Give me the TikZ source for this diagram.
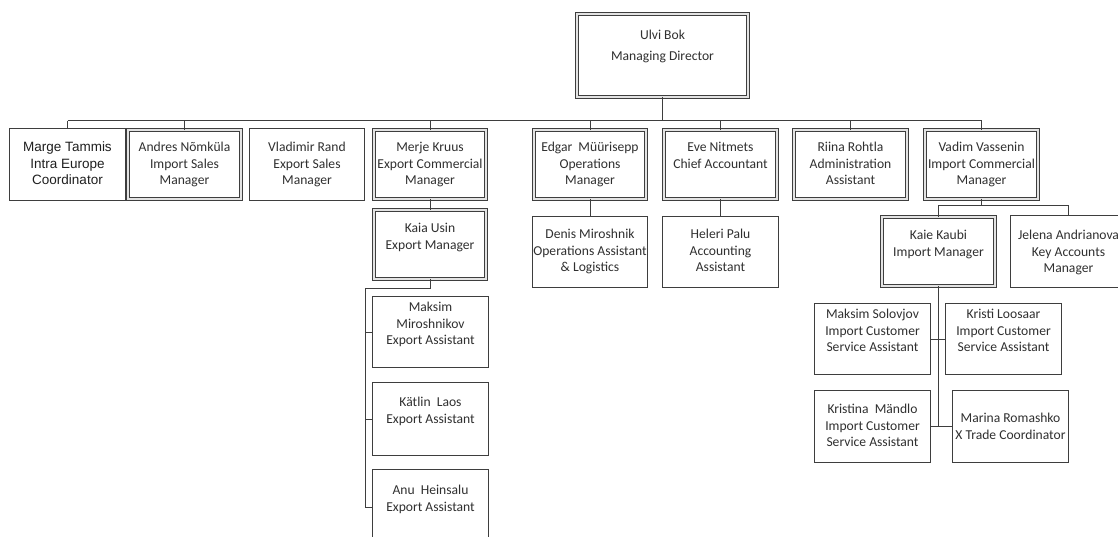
\documentclass[tikz,border=0pt]{standalone}
\usepackage{fontspec}
\setmainfont{Carlito}
\newfontfamily\margefont{Liberation Sans}
\definecolor{lc}{HTML}{3E3E3E}
\definecolor{tc}{HTML}{303030}
% name, x1, y1, x2, y2, first-line offset, text style, text
\newcommand\obS[8]{%
  \node[sbox, minimum width={(#4-#2-1.2)*1pt}, minimum height={(#5-#3-1.2)*1pt}] (#1) at ({(#2+#4)/2},{(#3+#5)/2}) {};
  \node[#7, anchor=north] (#1-t) at ({(#2+#4)/2},{#3+#6-5}) {#8};}
\newcommand\obD[8]{%
  \node[dbox, minimum width={(#4-#2-4.2)*1pt}, minimum height={(#5-#3-4.2)*1pt}] (#1) at ({(#2+#4)/2},{(#3+#5)/2}) {};
  \node[#7, anchor=north] (#1-t) at ({(#2+#4)/2},{#3+#6-5}) {#8};}
\begin{document}
\begin{tikzpicture}[x=1pt,y=-1pt,
  sbox/.style={draw=lc, line width=1.2pt, inner sep=0pt, outer sep=0pt, rectangle},
  dbox/.style={draw=lc, line width=1.1pt, double=gray!22, double distance=2pt, inner sep=0pt, outer sep=0pt, rectangle},
  txt/.style={align=center, inner sep=0pt, text=tc, font=\fontsize{13.6}{16.5}\selectfont},
  mtxt/.style={align=center, inner sep=0pt, text=black!88, font=\margefont\fontsize{13.5}{16.5}\selectfont},
  utxt/.style={align=center, inner sep=0pt, text=tc, font=\fontsize{13.6}{21}\selectfont},
  conn/.style={draw=lc, line width=1pt}]
\useasboundingbox (0,0) rectangle (1118,537);
\fill[white] (0,0) rectangle (1118,537);

% top
\obD{ulvi}{575}{12}{750}{99}{23}{utxt}{Ulvi Bok\\Managing Director}
% first row
\obS{marge}{9}{128}{126}{201}{19}{mtxt}{Marge Tammis\\Intra Europe\\Coordinator}
\obD{andres}{126}{128}{243}{201}{19}{txt}{Andres Nõmküla\\Import Sales\\Manager}
\obS{vladimir}{249}{128}{365}{201}{19}{txt}{Vladimir Rand\\Export Sales\\Manager}
\obD{merje}{372}{128}{488}{201}{19}{txt}{Merje Kruus\\Export Commercial\\Manager}
\obD{edgar}{532}{128}{648}{201}{19}{txt}{Edgar\ \ Müürisepp\\Operations\\Manager}
\obD{eve}{662}{128}{779}{201}{19}{txt}{Eve Nitmets\\Chief Accountant}
\obD{riina}{792}{128}{909}{201}{19}{txt}{Riina Rohtla\\Administration\\Assistant}
\obD{vadim}{923}{128}{1040}{201}{19}{txt}{Vadim Vassenin\\Import Commercial\\Manager}
% second level
\obD{kaia}{372}{208}{488}{281}{20}{txt}{Kaia Usin\\Export Manager}
\obS{denis}{532}{216}{648}{288}{18}{txt}{Denis Miroshnik\\Operations Assistant\\\& Logistics}
\obS{heleri}{662}{216}{779}{288}{18}{txt}{Heleri Palu\\Accounting\\Assistant}
\obD{kaie}{880}{215}{997}{288}{20}{txt}{Kaie Kaubi\\Import Manager}
\obS{jelena}{1010}{215}{1127}{288}{20}{txt}{Jelena Andrianova\\Key Accounts\\Manager}
% export assistants
\obS{mm}{372}{296}{489}{368}{11}{txt}{Maksim\\Miroshnikov\\Export Assistant}
\obS{katlin}{372}{382}{489}{456}{20}{txt}{Kätlin\ \ Laos\\Export Assistant}
\obS{anu}{372}{469}{489}{545}{21}{txt}{Anu\ \ Heinsalu\\Export Assistant}
% import assistants
\obS{ms}{814}{303}{931}{375}{11}{txt}{Maksim Solovjov\\Import Customer\\Service Assistant}
\obS{kristi}{945}{303}{1062}{375}{11}{txt}{Kristi Loosaar\\Import Customer\\Service Assistant}
\obS{kristina}{814}{390}{931}{463}{19}{txt}{Kristina\ \ Mändlo\\Import Customer\\Service Assistant}
\obS{marina}{952}{390}{1069}{463}{28}{txt}{Marina Romashko\\X Trade Coordinator}

% connectors
\coordinate (bus) at (0,121);
\draw[conn] (marge.north |- bus) -- (vadim.north |- bus);
\draw[conn] (ulvi.south) -- (ulvi.south |- bus);
\foreach \n in {marge,andres,merje,edgar,eve,riina,vadim}
  \draw[conn] (\n.north) -- (\n.north |- bus);
\draw[conn] (merje.south) -- (kaia.north);
\draw[conn] (edgar.south) -- (denis.north);
\draw[conn] (eve.south) -- (heleri.north);
\coordinate (vj) at (0,206);
\draw[conn] (vadim.south) -- (vadim.south |- vj);
\draw[conn] (kaie.north) -- (kaie.north |- vj) -- (jelena.north |- vj) -- (jelena.north);
\coordinate (kt) at (365,288);
\draw[conn] (kaia.south) -- (kaia.south |- kt) -- (kt) -- (kt |- anu.west) -- (anu.west);
\draw[conn] (kt |- mm.west) -- (mm.west);
\draw[conn] (kt |- katlin.west) -- (katlin.west);
\draw[conn] (kaie.south) -- (kaie.south |- marina.west);
\draw[conn] (ms.east) -- (kristi.west);
\draw[conn] (kristina.east) -- (marina.west);
\end{tikzpicture}
\end{document}
